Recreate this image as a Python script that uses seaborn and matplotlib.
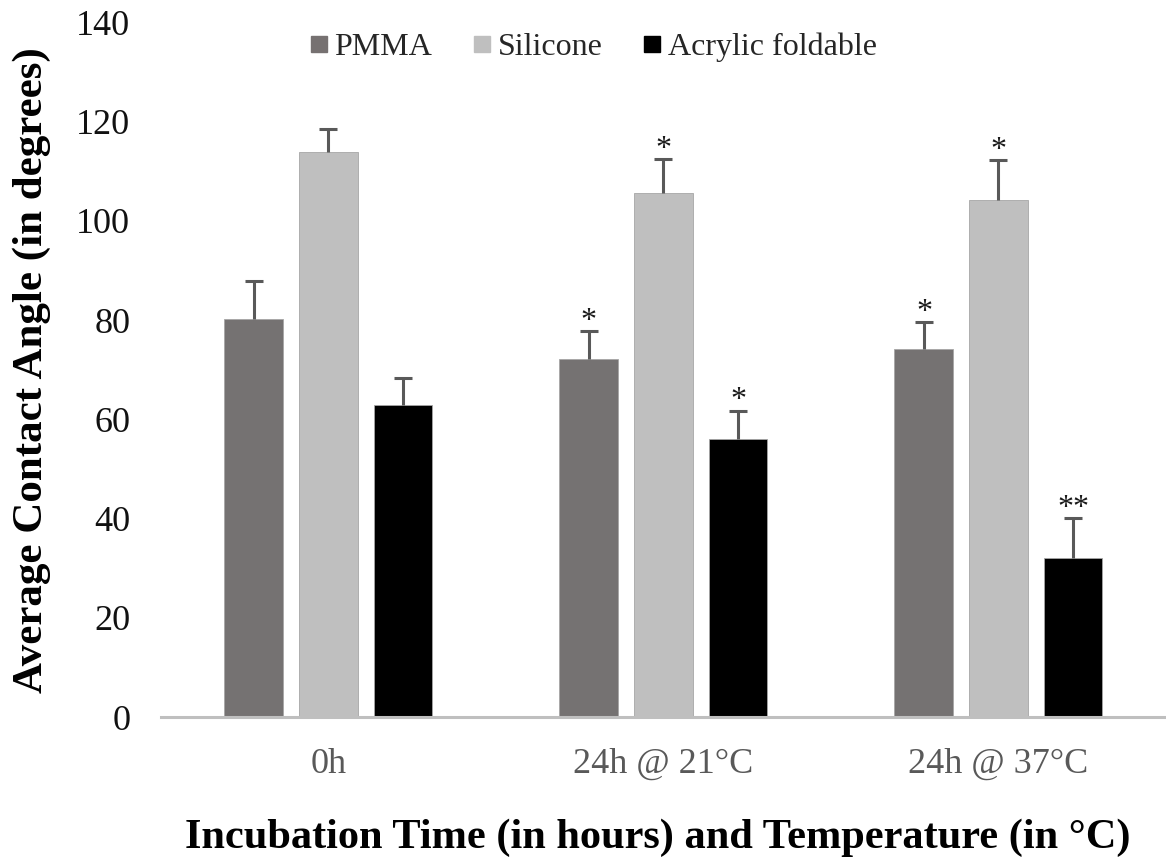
import matplotlib
matplotlib.use("Agg")
import matplotlib.pyplot as plt
from matplotlib.lines import Line2D
import seaborn as sns
import pandas as pd

# Data: mean contact angle and SD per lens material and condition
conditions = ["0h", "24h @ 21°C", "24h @ 37°C"]
materials = ["PMMA", "Silicone", "Acrylic foldable"]
pmma_mean = [80.3, 72.2, 74.2]
silicone_mean = [113.9, 105.6, 104.3]
acrylic_mean = [63.0, 56.0, 32.1]
pmma_sd = [7.5, 5.6, 5.4]
silicone_sd = [4.7, 6.8, 7.9]
acrylic_sd = [5.3, 5.8, 8.0]
pmma_sig = ["", "*", "*"]
silicone_sig = ["", "*", "*"]
acrylic_sig = ["", "*", "**"]

colors = ["#767171", "#bfbfbf", "#000000"]

means = [pmma_mean, silicone_mean, acrylic_mean]
sds = [pmma_sd, silicone_sd, acrylic_sd]
sigs = [pmma_sig, silicone_sig, acrylic_sig]

df = pd.DataFrame({
    "condition": [c for _ in materials for c in conditions],
    "material": [m for m in materials for _ in conditions],
    "angle": [v for vals in means for v in vals],
})

sns.set_theme(style="white")
plt.rcParams["font.family"] = ["Liberation Serif", "DejaVu Serif"]

fig = plt.figure(figsize=(11.66, 8.59), dpi=100)
ax = fig.add_axes([0.138, 0.165, 0.862, 0.809])

sns.barplot(data=df, x="condition", y="angle", hue="material",
            order=conditions, hue_order=materials, palette=colors,
            width=0.6675, gap=0.21, errorbar=None, ax=ax,
            edgecolor="#a6a6a6", linewidth=0.6, legend=False)

# Upper-only error bars and significance marks, placed on each drawn bar
for container, sd_vals, sig_vals in zip(ax.containers, sds, sigs):
    for bar, sd, sig in zip(container, sd_vals, sig_vals):
        xc = bar.get_x() + bar.get_width() / 2
        h = bar.get_height()
        _, caps, _ = ax.errorbar(xc, h, yerr=[[0], [sd]], fmt="none",
                                 ecolor="#595959", elinewidth=2.2,
                                 capsize=6.5, capthick=2.2, zorder=3)
        caps[0].set_visible(False)
        if sig:
            ax.text(xc, h + sd - 0.9, sig, ha="center", va="bottom",
                    fontsize=23, color="#1a1a1a")

ax.set_ylim(0, 140)
ax.set_xlim(-0.5, 2.5)
ax.set_yticks(range(0, 141, 20))
ax.tick_params(axis="y", labelsize=26, labelcolor="#111111", length=0, pad=22)
ax.tick_params(axis="x", labelsize=26, labelcolor="#595959", length=0, pad=22)

for side in ["top", "right", "left"]:
    ax.spines[side].set_visible(False)
ax.spines["bottom"].set_color("#bfbfbf")
ax.spines["bottom"].set_linewidth(2.2)

ax.set_xlabel("Incubation Time (in hours) and Temperature (in °C)",
              fontsize=30.5, fontweight="bold", color="#000000")
ax.xaxis.set_label_coords(0.494, -0.146)
ax.set_ylabel("Average Contact Angle (in degrees)",
              fontsize=31, fontweight="bold", color="#000000", labelpad=18)

handles = [Line2D([0], [0], marker="s", linestyle="none", markersize=11.5,
                  markerfacecolor=c, markeredgecolor=c) for c in colors]
fig.legend(handles, materials, loc="center", bbox_to_anchor=(0.508, 0.945),
           ncol=3, frameon=False, fontsize=23, handletextpad=0.15,
           columnspacing=1.2, handlelength=0.7)

fig.savefig("out.png", dpi=100)
